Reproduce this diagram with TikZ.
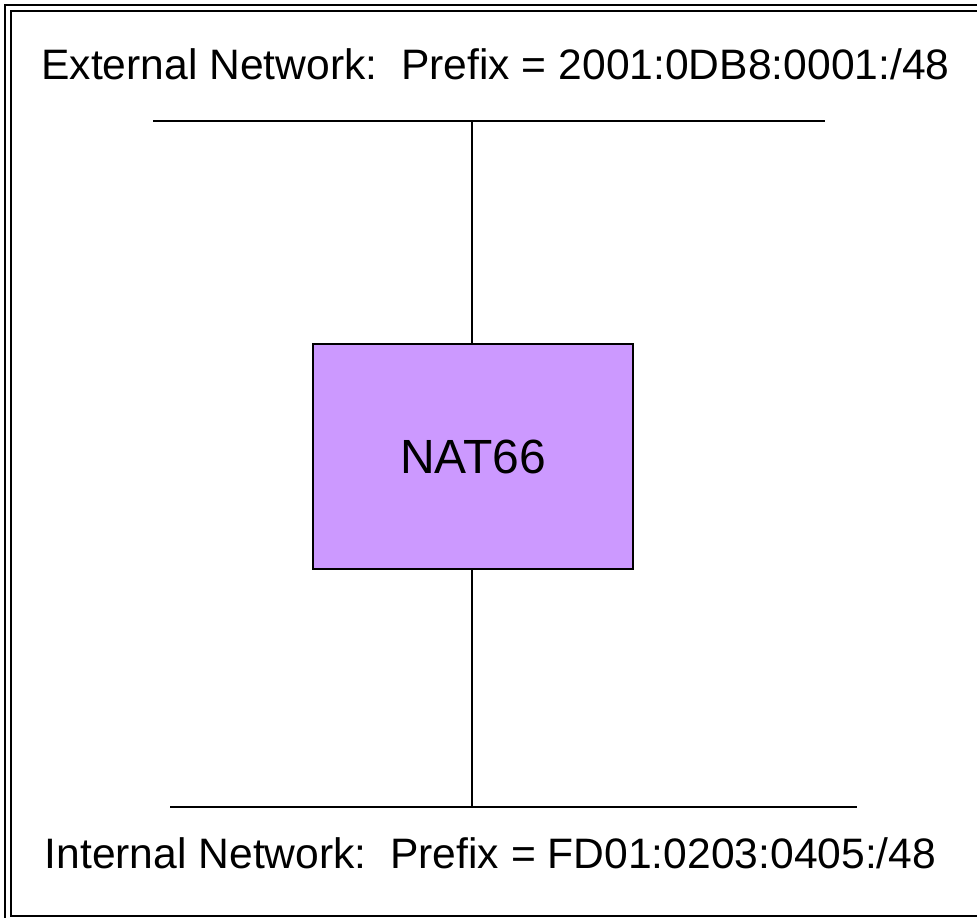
\documentclass[tikz,border=0pt]{standalone}
\usepackage{fontspec}
\setmainfont{Liberation Sans}
\begin{document}
\begin{tikzpicture}[x=1pt,y=-1pt,
  wire/.style={line width=1.8pt},
  frameline/.style={line width=2.4pt},
  label/.style={inner sep=0pt, font=\fontsize{42.6}{48}\selectfont},
  natbox/.style={draw, line width=2pt, fill=natfill, minimum width=320pt, minimum height=225pt, inner sep=0pt, font=\fontsize{48}{56}\selectfont}]
\definecolor{natfill}{HTML}{CC99FF}
\useasboundingbox (0,0) rectangle (977,918);
\begin{scope}
\clip (0,0) rectangle (977,918);
% double frame, partly cut at the right and bottom
\draw[frameline] (5,5) rectangle (1010,940);
\draw[frameline] (11,11) rectangle (1000,916);
\end{scope}
% networks and the translator
\node[label, anchor=base] (ext) at (495.5,79) {External Network:\ \ Prefix = 2001:0DB8:0001:/48};
\node[label, anchor=base] (int) at (490.5,868) {Internal Network:\ \ Prefix = FD01:0203:0405:/48};
\coordinate (extL) at (153,121);
\coordinate (extR) at (825,121);
\coordinate (extT) at (472,121);
\coordinate (intL) at (170,807);
\coordinate (intR) at (857,807);
\coordinate (intT) at (472,807);
\draw[wire] (extL) -- (extR);
\draw[wire] (intL) -- (intR);
\node[natbox] (nat) at (473,456.5) {NAT66};
\draw[wire] (extT) -- (nat.north -| extT);
\draw[wire] (nat.south -| intT) -- (intT);
\end{tikzpicture}
\end{document}
